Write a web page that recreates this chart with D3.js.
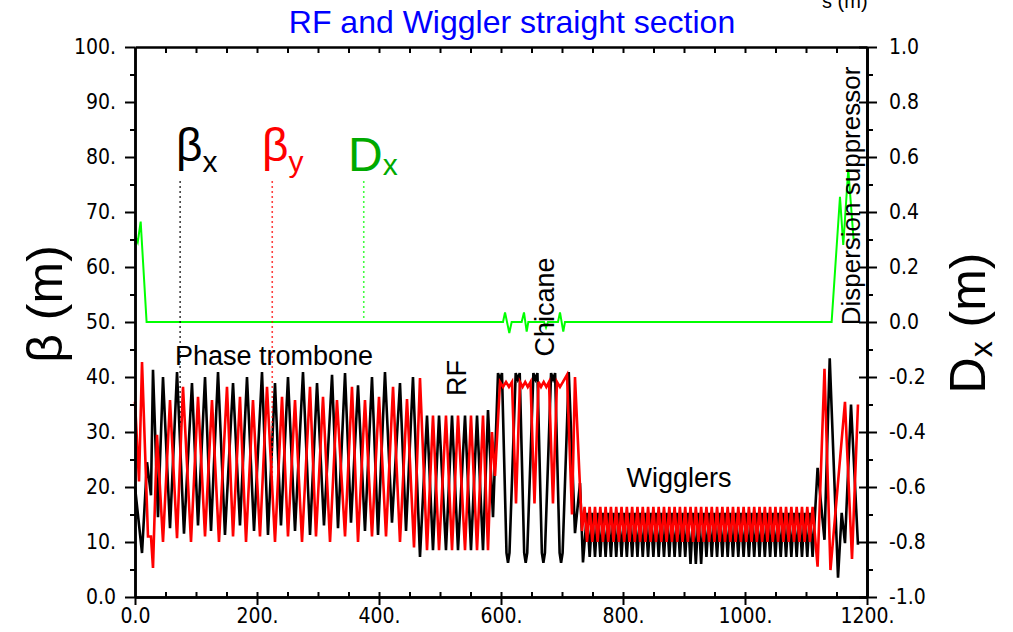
<!DOCTYPE html>
<html><head><meta charset="utf-8">
<script src="https://cdn.jsdelivr.net/npm/d3@7"></script>
<style>body{margin:0;background:#fff} svg{display:block}</style>
</head><body>
<svg id="c" width="1013" height="632"></svg>
<script>
// ---- data: [s (m), value] ----
const betaX = [[0,20],[11.5,8],[19.7,24.5],[26.2,18.5],[29.5,41.3],[37.7,14.5],[45.9,40],[57.4,12.5],[68.9,40.9],[80.3,11.5],[93.4,38.9],[103.3,13],[114.8,40],[124.6,12],[136.1,40.9],[147.5,11.3],[160.7,38.9],[172.1,13],[183.6,40],[195.1,12],[208.2,40.9],[218,11.3],[229.5,38.9],[239.3,13],[250.8,40],[262.3,12],[275.4,40.9],[286.9,11.3],[298.4,38.9],[309.8,13],[323,40.4],[332.8,12.5],[344.3,40.7],[354.1,13.5],[365.6,38.5],[377,12],[388.5,40],[398.4,11.3],[409.8,40.9],[421.3,13.5],[434.4,38.9],[444.3,12],[455.7,40],[467.2,7.3],[478.7,33],[488.5,8.5],[498.4,33],[509.8,8.5],[519.7,33],[529.5,8.5],[541,33],[550.8,8.5],[560.7,33],[570.5,8.5],[578.7,34],[586.9,14.5],[595.1,40.7],[598.4,39.6],[601.6,40.7],[609,8],[611.5,6.2],[613.9,8],[624.1,40.7],[627.4,39.6],[630.7,40.7],[638,8],[640.5,6.2],[643,8],[653.1,40.7],[656.4,39.6],[659.7,40.7],[667,8],[669.5,6.2],[672,8],[682.1,40.7],[685.4,39.6],[688.7,40.7],[696.1,8],[698.5,6.2],[701,8],[711.1,40.9],[721.3,11.6],[729.5,20.7],[734.4,6.3],
[741,15.3],[745.4,7.3],[749.7,15.3],[754.1,7.3],[758.4,15.3],[762.8,7.3],[767.1,15.3],[771.5,7.3],[775.8,15.3],[780.2,7.3],[784.5,15.3],[788.9,7.3],[793.2,15.3],[797.6,7.3],[801.9,15.3],[806.3,7.3],[810.6,15.3],[815,7.3],[819.3,15.3],[823.7,7.3],[828,15.3],[832.4,7.3],[836.7,15.3],[841.1,7.3],[845.4,15.3],[849.8,7.3],[854.1,15.3],[858.5,7.3],[862.8,15.3],[867.2,7.3],[871.5,15.3],[875.9,7.3],[880.2,15.3],[884.6,7.3],[888.9,15.3],[893.3,7.3],[897.6,15.3],[902,7.3],[906.3,15.3],[910.7,6],[915,15.3],[919.4,6],[923.7,15.3],[928.1,6],[932.4,15.3],[936.8,7.3],[941.1,15.3],[945.5,7.3],[949.8,15.3],[954.2,7.3],[958.5,15.3],[962.9,7.3],[967.2,15.3],[971.6,7.3],[975.9,15.3],[980.3,7.3],[984.6,15.3],[989,7.3],[993.3,15.3],[997.7,7.3],[1002,15.3],[1006.4,7.3],[1010.7,15.3],[1015.1,7.3],[1019.4,15.3],[1023.8,7.3],[1028.1,15.3],[1032.5,7.3],[1036.8,15.3],[1041.2,7.3],[1045.5,15.3],[1049.9,7.3],[1054.2,15.3],[1058.6,7.3],[1062.9,15.3],[1067.3,7.3],[1071.6,15.3],[1076,7.3],[1080.3,15.3],[1084.7,7.3],[1089,15.3],[1093.4,7.3],[1097.7,15.3],[1102.1,7.3],[1106.4,15.3],[1110.8,7.3],
[1119,23.5],[1130.3,10.4],[1138.9,43.4],[1152.5,3.5],[1158.5,15.3],[1163.9,9.8],[1173.8,35],[1185.2,9.5]];

const betaY = [[0,35.5],[6.6,21],[11.5,42.7],[21.3,11],[26.2,11],[29.5,5.3],[36.1,29.5],[45.9,10],[57.4,35.8],[68.9,10.7],[78.7,38.2],[91.8,10],[103.3,36.4],[114.8,11],[126.2,35.8],[137.7,10],[150.8,38.2],[160.7,11],[172.1,36.4],[182,10],[193.4,35.8],[204.9,11],[216.4,38.2],[229.5,10],[241,36.4],[250.8,11],[262.3,35.8],[273.8,10],[286.9,38.2],[296.7,11],[308.2,36.4],[319.7,10],[331.1,35.8],[344.3,11],[355.7,38.2],[365.6,10],[377,35.8],[388.5,11],[400,36.4],[411.5,11],[423,38.2],[434.4,10],[445.9,36],[457.4,9],[467.2,39.8],[478.7,8.5],[488.5,33],[498.4,8.5],[509.8,33],[519.7,8.5],[529.5,33],[541,8.5],[550.8,33],[560.7,8.5],[570.5,33],[578.7,8.5],[585.2,30],[590.2,22],[598.4,39.1],[603.3,38.2],[608.2,39.1],[613.1,38.2],[618,39.1],[624.6,17],[631.1,39.1],[635.4,38.2],[639.7,39.1],[643.9,38.2],[648.4,39.1],[654.9,17],[661.5,39.1],[665.6,38.2],[670,39.1],[674.3,38.2],[678.7,39.1],[685.2,17],[691.8,39.1],[696.7,38.2],[701.6,39.1],[708.2,40.4],[716.4,15],[721.3,40],[732.8,12],
[737,16.4],[741,10],[745.4,16.4],[749.7,10],[754.1,16.4],[758.4,10],[762.8,16.4],[767.1,10],[771.5,16.4],[775.8,10],[780.2,16.4],[784.5,10],[788.9,16.4],[793.2,10],[797.6,16.4],[801.9,10],[806.3,16.4],[810.6,10],[815,16.4],[819.3,10],[823.7,16.4],[828,10],[832.4,16.4],[836.7,10],[841.1,16.4],[845.4,10],[849.8,16.4],[854.1,10],[858.5,16.4],[862.8,10],[867.2,16.4],[871.5,10],[875.9,16.4],[880.2,10],[884.6,16.4],[888.9,10],[893.3,16.4],[897.6,10],[902,16.4],[906.3,10],[910.7,16.4],[915,10],[919.4,16.4],[923.7,10],[928.1,16.4],[932.4,10],[936.8,16.4],[941.1,10],[945.5,16.4],[949.8,10],[954.2,16.4],[958.5,10],[962.9,16.4],[967.2,10],[971.6,16.4],[975.9,10],[980.3,16.4],[984.6,10],[989,16.4],[993.3,10],[997.7,16.4],[1002,10],[1006.4,16.4],[1010.7,10],[1015.1,16.4],[1019.4,10],[1023.8,16.4],[1028.1,10],[1032.5,16.4],[1036.8,10],[1041.2,16.4],[1045.5,10],[1049.9,16.4],[1054.2,10],[1058.6,16.4],[1062.9,10],[1067.3,16.4],[1071.6,10],[1076,16.4],[1080.3,10],[1084.7,16.4],[1089,10],[1093.4,16.4],[1097.7,10],[1102.1,16.4],[1106.4,10],[1110.8,16.4],
[1119,5.5],[1130.3,41.5],[1140.1,4.9],[1163.9,35.5],[1175.4,6.9],[1185.2,35]];

const dispX = [[0,0.28],[2.7,0.3],[4.5,0.29],[9.3,0.365],[19,0],[603.3,0],[606.6,0.035],[613.6,-0.04],[617.5,0],[633.9,0],[637.7,0.035],[642.1,-0.035],[644.8,0],[670.5,0],[673.8,-0.02],[677,0],[693.4,0],[696.7,0.035],[702.1,-0.035],[704.9,0],[1142,0],[1155.7,0.455],[1161.1,0.28],[1169.3,0.555],[1178,0.3]];

const leftTickValues = [0,10,20,30,40,50,60,70,80,90,100];
const leftTickLabels = ["0.0","10.","20.","30.","40.","50.","60.","70.","80.","90.","100."];
const rightTickValues = [-1,-0.8,-0.6,-0.4,-0.2,0,0.2,0.4,0.6,0.8,1];
const rightTickLabels = ["-1.0","-0.8","-0.6","-0.4","-0.2","0.0","0.2","0.4","0.6","0.8","1.0"];
const bottomTickValues = [0,200,400,600,800,1000,1200];
const bottomTickLabels = ["0.0","200.","400.","600.","800.","1000.","1200."];

// ---- drawing ----
const svg = d3.select("#c");
const x = d3.scaleLinear().domain([0,1200]).range([135,867]);
const yB = d3.scaleLinear().domain([0,100]).range([597,47]);
const yD = d3.scaleLinear().domain([-1,1]).range([597,47]);
const tickFont = '"DejaVu Sans Condensed","DejaVu Sans",sans-serif';
const txtFont = '"Liberation Sans",Arial,sans-serif';

function styleAxis(g){
  g.selectAll("path.domain").attr("stroke","#000").attr("stroke-width",2.5);
  g.selectAll(".tick line").attr("stroke","#000").attr("stroke-width",2);
  g.selectAll(".tick text").attr("font-family",tickFont).attr("font-size",21).attr("fill","#000");
}
const minorB = d3.range(5,100,10);
const minorD = d3.range(-9,10,2).map(v=>v/10);
const every50 = d3.range(50,1200,50);

// curves
const lineB = d3.line().x(d=>x(d[0])).y(d=>yB(d[1]));
const lineD = d3.line().x(d=>x(d[0])).y(d=>yD(d[1]));
svg.append("path").datum(betaX).attr("d",lineB).attr("fill","none").attr("stroke","#000").attr("stroke-width",2.6);
svg.append("path").datum(betaY).attr("d",lineB).attr("fill","none").attr("stroke","#ff0000").attr("stroke-width",2.6);
svg.append("path").datum(dispX).attr("d",lineD).attr("fill","none").attr("stroke","#00ff00").attr("stroke-width",2);

// axes
svg.append("g").attr("transform","translate(135,0)")
  .call(d3.axisLeft(yB).tickValues(leftTickValues).tickFormat((d,i)=>leftTickLabels[i]).tickSize(10).tickPadding(9).tickSizeOuter(0)).call(styleAxis);
svg.append("g").attr("transform","translate(135,0)")
  .call(d3.axisLeft(yB).tickValues(minorB).tickFormat("").tickSize(5).tickSizeOuter(0)).call(styleAxis);
svg.append("g").attr("transform","translate(867,0)")
  .call(d3.axisRight(yD).tickValues(rightTickValues).tickFormat((d,i)=>rightTickLabels[i]).tickSize(10).tickPadding(12).tickSizeOuter(0)).call(styleAxis);
svg.append("g").attr("transform","translate(867,0)")
  .call(d3.axisLeft(yD).tickValues(rightTickValues).tickFormat("").tickSize(8).tickSizeOuter(0)).call(styleAxis);
svg.append("g").attr("transform","translate(867,0)")
  .call(d3.axisRight(yD).tickValues(minorD).tickFormat("").tickSize(6).tickSizeOuter(0)).call(styleAxis);
svg.append("g").attr("transform","translate(0,597)")
  .call(d3.axisBottom(x).tickValues(bottomTickValues).tickFormat((d,i)=>bottomTickLabels[i]).tickSize(8).tickPadding(3).tickSizeOuter(0)).call(styleAxis);
svg.append("g").attr("transform","translate(0,597)")
  .call(d3.axisTop(x).tickValues(every50).tickFormat("").tickSize(5).tickSizeOuter(0)).call(styleAxis);
svg.append("g").attr("transform","translate(0,47)")
  .call(d3.axisBottom(x).tickValues(every50).tickFormat("").tickSize(6).tickSizeOuter(0)).call(styleAxis);

// titles
svg.append("text").attr("x",512).attr("y",33).attr("text-anchor","middle")
  .attr("font-family",txtFont).attr("font-size",32).attr("fill","#0000ff").text("RF and Wiggler straight section");
svg.append("text").attr("x",822).attr("y",8).attr("font-family",txtFont).attr("font-size",20).attr("fill","#000").text("s (m)");

svg.append("text").attr("transform","translate(62,304) rotate(-90)").attr("text-anchor","middle")
  .attr("font-family",txtFont).attr("font-size",50).attr("fill","#000").text("β (m)");
const yr = svg.append("text").attr("transform","translate(985,323) rotate(-90)").attr("text-anchor","middle")
  .attr("font-family",txtFont).attr("font-size",50).attr("fill","#000");
yr.append("tspan").text("D");
yr.append("tspan").attr("font-size",32).attr("dy",7).text("x");
yr.append("tspan").attr("dy",-7).text(" (m)");

// annotations
function ann(t,px,py,rot,fs){
  const g = svg.append("text").attr("font-family",txtFont).attr("font-size",fs).attr("fill","#000").attr("text-anchor","middle").text(t);
  g.attr("transform",`translate(${px},${py})`+(rot?" rotate(-90)":""));
}
ann("Phase trombone", x(228), yB(42.2), false, 27);
ann("RF", 466, 378, true, 27);
ann("Chicane", 554, 307, true, 27);
ann("Wigglers", 679, 487, false, 27);
ann("Dispersion suppressor", 860, 196, true, 26);

// legend
function legend(sym, sub, color, px, symSize, dy){
  const t = svg.append("text").attr("x",px).attr("y",161).attr("font-family",txtFont).attr("font-size",symSize).attr("fill",color);
  t.append("tspan").text(sym);
  t.append("tspan").attr("font-size",30).attr("dy",dy).text(sub);
}
legend("β","x","#000",176,46,11);
legend("β","y","#ff0000",262,46,11);
const dLeg = svg.append("text").attr("x",348).attr("y",171).attr("font-family",txtFont).attr("font-size",48).attr("fill","#00aa00");
dLeg.append("tspan").text("D");
dLeg.append("tspan").attr("font-size",30).attr("dy",4).text("x");

// legend leader lines
const leaders = [[74,yB(75.6),yB(31),"#000"],[225,yB(75.6),yB(20),"#ff0000"],[375,yB(75.6),yD(0),"#00ff00"]];
leaders.forEach(l=>{
  svg.append("line").attr("x1",x(l[0])).attr("x2",x(l[0])).attr("y1",l[1]).attr("y2",l[2])
    .attr("stroke",l[3]).attr("stroke-width",1.6).attr("stroke-dasharray","1.6,3.4");
});
</script>
</body></html>
